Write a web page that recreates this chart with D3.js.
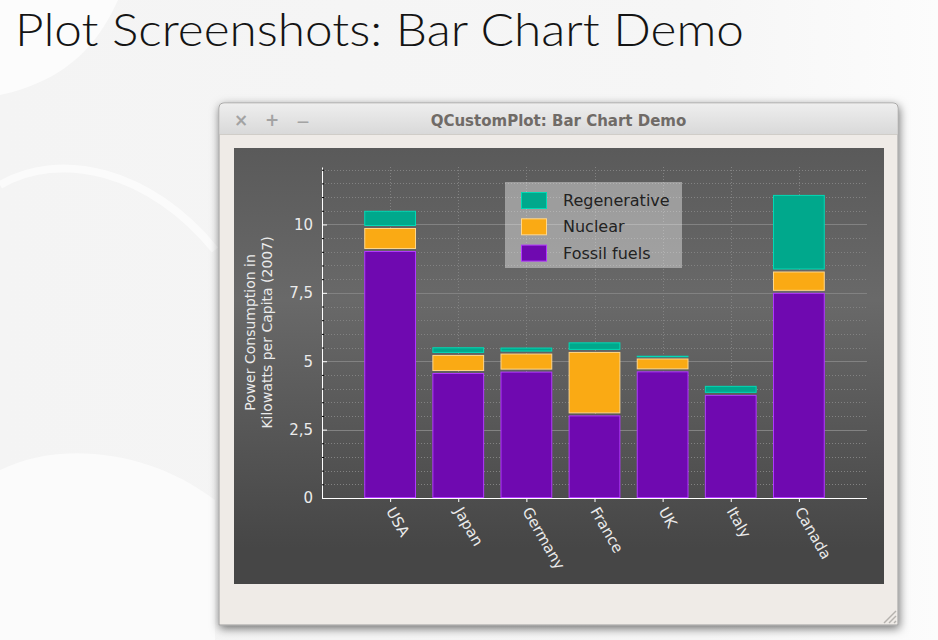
<!DOCTYPE html>
<html>
<head>
<meta charset="utf-8">
<title>Bar Chart Demo</title>
<style>
	body{margin:0;background:#fff;}
	svg{display:block;}
	text{font-family:"DejaVu Sans",sans-serif;}
</style>
</head>
<body>
<div id="chart"></div>
<script src="https://d3js.org/d3.v7.min.js"></script>
<script type="text/javascript">

// values (kW per capita, 2007)
var countries = ['USA','Japan','Germany','France','UK','Italy','Canada'],
	fossil  = [9.03, 4.57, 4.62, 3.02, 4.63, 3.77, 7.50],
	nuclear = [0.84, 0.66, 0.66, 2.32, 0.47, 0.00, 0.78],
	regen   = [0.63, 0.28, 0.22, 0.35, 0.10, 0.33, 2.80],
	yTicks = [0, 2.5, 5, 7.5, 10],
	yTickLabels = ['0','2,5','5','7,5','10'],
	legendNames = ['Regenerative','Nuclear','Fossil fuels'];

var series = [
	{name:'Fossil fuels', values:fossil,  fill:'rgb(111,9,176)',  pen:'rgb(178,57,255)'},
	{name:'Nuclear',      values:nuclear, fill:'rgb(250,170,20)', pen:'rgb(255,215,140)'},
	{name:'Regenerative', values:regen,   fill:'rgb(0,168,140)',  pen:'rgb(0,218,182)'}
];

var W = 938, H = 640;
var svg = d3.select('#chart').append('svg').attr('width',W).attr('height',H);
var defs = svg.append('defs');

// page background
var pg = defs.append('linearGradient').attr('id','page').attr('x1',0).attr('y1',0).attr('x2',1).attr('y2',0);
pg.append('stop').attr('offset',0).attr('stop-color','#f4f4f4');
pg.append('stop').attr('offset',0.75).attr('stop-color','#f6f6f6');
pg.append('stop').attr('offset',1).attr('stop-color','#fcfcfc');
svg.append('rect').attr('width',W).attr('height',H).attr('fill','url(#page)');
svg.append('path').attr('fill','#fff').attr('opacity',0.7)
	.attr('d','M118,0 C100,40 70,80 0,95 L0,0 Z');
svg.append('path').attr('fill','none').attr('stroke','#fff').attr('stroke-width',8).attr('opacity',0.6)
	.attr('d','M0,185 C60,150 150,170 215,250');
svg.append('path').attr('fill','#fff').attr('opacity',0.6)
	.attr('d','M0,470 C60,440 150,450 215,500 L215,640 L0,640 Z');

svg.append('text')
	.attr('x',15).attr('y',46)
	.attr('textLength',729).attr('lengthAdjust','spacingAndGlyphs')
	.style('font-family','Lato, "Open Sans", sans-serif')
	.style('font-weight',300)
	.style('font-size','46px')
	.style('fill','#141414')
	.text('Plot Screenshots: Bar Chart Demo');

// window
var shadow = defs.append('filter').attr('id','shadow').attr('x','-10%').attr('y','-10%').attr('width','120%').attr('height','125%');
shadow.append('feDropShadow').attr('dx',1).attr('dy',3).attr('stdDeviation',5).attr('flood-color','#000').attr('flood-opacity',0.55);

var tb = defs.append('linearGradient').attr('id','titlebar').attr('x1',0).attr('y1',0).attr('x2',0).attr('y2',1);
tb.append('stop').attr('offset',0).attr('stop-color','#eeeeee');
tb.append('stop').attr('offset',1).attr('stop-color','#d9d9d9');

var win = {x:219, y:103, w:679, h:522};
svg.append('path')
	.attr('filter','url(#shadow)')
	.attr('fill','#efebe7')
	.attr('stroke','#9c9c9c')
	.attr('d','M'+win.x+','+(win.y+win.h)+' V'+(win.y+5)+' Q'+win.x+','+win.y+' '+(win.x+5)+','+win.y+
		' H'+(win.x+win.w-5)+' Q'+(win.x+win.w)+','+win.y+' '+(win.x+win.w)+','+(win.y+5)+' V'+(win.y+win.h)+' Z');
svg.append('path')
	.attr('fill','url(#titlebar)')
	.attr('d','M'+(win.x+0.5)+',134 V'+(win.y+5.5)+' Q'+(win.x+0.5)+','+(win.y+0.5)+' '+(win.x+5.5)+','+(win.y+0.5)+
		' H'+(win.x+win.w-5.5)+' Q'+(win.x+win.w-0.5)+','+(win.y+0.5)+' '+(win.x+win.w-0.5)+','+(win.y+5.5)+' V134 Z');
svg.append('line').attr('x1',win.x+1).attr('x2',win.x+win.w-1).attr('y1',134.5).attr('y2',134.5).attr('stroke','#d0cdc8');

svg.selectAll('.wbtn').data(['×','+','—']).enter().append('text')
	.attr('class','wbtn')
	.attr('x',function(d,i){ return 241 + i*31; })
	.attr('y',126)
	.attr('text-anchor','middle')
	.style('font-size',function(d,i){ return i == 2 ? '12px' : '17px'; })
	.style('font-weight','bold').style('fill','#a3a3a3')
	.text(function(d){ return d; });

svg.append('text')
	.attr('x',win.x+win.w/2).attr('y',126)
	.attr('text-anchor','middle')
	.style('font-size','15px').style('font-weight','bold').style('fill','#706b67')
	.text('QCustomPlot: Bar Chart Demo');

// resize grip
var grip = svg.append('g').attr('stroke','#b5b2ae').attr('stroke-width',1.5);
[0,5,10].forEach(function(o){
	grip.append('line').attr('x1',884+o).attr('y1',623).attr('x2',896).attr('y2',611+o);
});

// plot widget
var bg = defs.append('linearGradient').attr('id','plotbg').attr('gradientUnits','userSpaceOnUse')
	.attr('x1',0).attr('y1',148).attr('x2',0).attr('y2',548);
bg.append('stop').attr('offset',0).attr('stop-color','rgb(90,90,90)');
bg.append('stop').attr('offset',0.38).attr('stop-color','rgb(105,105,105)');
bg.append('stop').attr('offset',1).attr('stop-color','rgb(70,70,70)');
svg.append('rect').attr('x',234).attr('y',148).attr('width',650).attr('height',436).attr('fill','url(#plotbg)');

var x = d3.scaleLinear().domain([0,8]).range([322,867]),
	y = d3.scaleLinear().domain([0,12.1]).range([498,167]);

var plot = svg.append('g');

// grids
var subVals = d3.range(0.5,12.01,0.5).filter(function(v){ return v % 2.5 !== 0; });
plot.selectAll('.subgrid').data(subVals).enter().append('line')
	.attr('x1',x(0)).attr('x2',x(8))
	.attr('y1',function(d){ return Math.round(y(d))+0.5; }).attr('y2',function(d){ return Math.round(y(d))+0.5; })
	.attr('stroke','rgb(130,130,130)').attr('stroke-dasharray','1,2');
plot.selectAll('.xgrid').data(d3.range(1,8)).enter().append('line')
	.attr('y1',y(0)).attr('y2',y(12.1))
	.attr('x1',function(d){ return Math.round(x(d))+0.5; }).attr('x2',function(d){ return Math.round(x(d))+0.5; })
	.attr('stroke','rgb(130,130,130)').attr('stroke-dasharray','1,2');
plot.selectAll('.ygrid').data(yTicks.slice(1)).enter().append('line')
	.attr('x1',x(0)).attr('x2',x(8))
	.attr('y1',function(d){ return Math.round(y(d))+0.5; }).attr('y2',function(d){ return Math.round(y(d))+0.5; })
	.attr('stroke','rgb(130,130,130)');

// bars, stacked with a small pixel gap like QCPBars
var gap = 2, bw = x(0.76) - x(0);
var base = countries.map(function(){ return 0; });
series.forEach(function(s, si){
	var g = plot.append('g');
	s.values.forEach(function(v, i){
		if (v <= 0) return;
		var b = base[i];
		var y0 = y(b) - (si > 0 ? gap : 0), y1 = y(b + v);
		g.append('rect')
			.attr('x', x(i+1) - bw/2 + 0.5)
			.attr('y', y1 + 0.5)
			.attr('width', bw - 1)
			.attr('height', Math.max(y0 - y1 - 1, 0.5))
			.attr('fill', s.fill)
			.attr('stroke', s.pen);
		base[i] = b + v;
	});
});

// axes
var yAxis = d3.axisLeft(y).tickValues(yTicks)
	.tickFormat(function(d,i){ return yTickLabels[i]; })
	.tickSizeInner(-5).tickSizeOuter(0).tickPadding(9);
var ya = plot.append('g').attr('transform','translate('+x(0)+',0)').call(yAxis);
plot.append('g').attr('transform','translate('+x(0)+',0)')
	.call(d3.axisLeft(y).tickValues(subVals).tickFormat('').tickSizeInner(-2).tickSizeOuter(0))
	.select('.domain').remove();

var xAxis = d3.axisBottom(x).tickValues(d3.range(1,8))
	.tickFormat(function(d){ return countries[d-1]; })
	.tickSizeInner(4).tickSizeOuter(0);
var xa = plot.append('g').attr('transform','translate(0,'+y(0)+')').call(xAxis);

[ya, xa].forEach(function(a){
	a.selectAll('.domain').attr('stroke','#fff');
	a.selectAll('.tick line').attr('stroke','#fff');
	a.selectAll('text').style('fill','#ebebeb').style('font-size','15px').style('font-family','"DejaVu Sans",sans-serif');
});
xa.selectAll('.domain').attr('d','M'+x(0)+',0.5H'+x(8));
xa.selectAll('.tick text')
	.attr('y',0).attr('dy',0)
	.attr('text-anchor','start')
	.attr('transform','translate(-5,13) rotate(60)');

// y label
var yl = plot.append('text')
	.attr('transform','translate(257,'+((y(0)+y(12.1))/2)+') rotate(-90)')
	.attr('text-anchor','middle')
	.style('font-size','14px').style('fill','#ebebeb');
yl.append('tspan').attr('x',0).attr('dy','-0.15em').text('Power Consumption in');
yl.append('tspan').attr('x',0).attr('dy','1.25em').text('Kilowatts per Capita (2007)');

// legend
var legend = plot.append('g').attr('transform','translate(505,182)');
legend.append('rect').attr('width',177).attr('height',86).attr('fill','rgba(255,255,255,0.39)');
var items = legend.selectAll('.item').data(legendNames).enter().append('g')
	.attr('transform',function(d,i){ return 'translate(0,'+(10 + i*26.3)+')'; });
items.append('rect')
	.attr('x',16.5).attr('y',0.5).attr('width',25).attr('height',16)
	.attr('fill',function(d){ return series.filter(function(s){ return s.name===d; })[0].fill; })
	.attr('stroke',function(d){ return series.filter(function(s){ return s.name===d; })[0].pen; });
items.append('text')
	.attr('x',58).attr('y',14)
	.style('font-size','16px').style('fill','#222')
	.text(function(d){ return d; });

</script>
</body>
</html>
